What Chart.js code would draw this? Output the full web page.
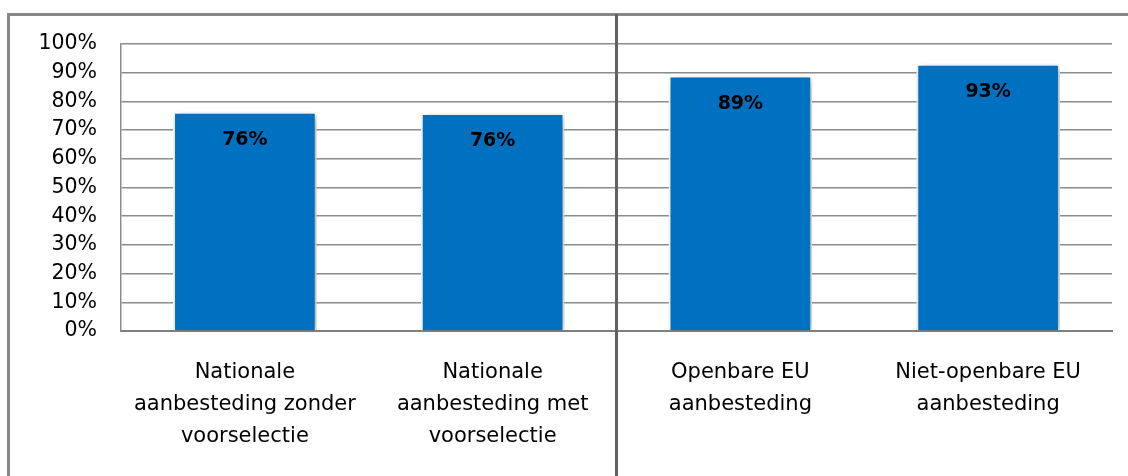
<!DOCTYPE html>
<html>
<head>
<meta charset="utf-8">
<script src="https://cdn.jsdelivr.net/npm/chart.js@4/dist/chart.umd.min.js"></script>
<style>
  html, body { margin: 0; padding: 0; background: #fff; }
  #wrap { position: relative; width: 1128px; height: 476px; }
</style>
</head>
<body>
<div id="wrap"><canvas id="grafico" width="1128" height="476"></canvas></div>
<script>
// categorie (etichette asse x, su più righe)
var categorie = [
    ["Nationale", "aanbesteding zonder", "voorselectie"],
    ["Nationale", "aanbesteding met", "voorselectie"],
    ["Openbare EU", "aanbesteding"],
    ["Niet-openbare EU", "aanbesteding"]
];
// valori in percentuale
var valori = [76.4, 76.0, 89.0, 93.1];
// tick asse y
var tickY = [0, 10, 20, 30, 40, 50, 60, 70, 80, 90, 100];

var font = "'DejaVu Sans', sans-serif";

// ombra sotto le barre
var ombraPlugin = {
    id: "ombra",
    beforeDatasetsDraw: function (chart) {
        var ctx = chart.ctx;
        ctx.save();
        ctx.shadowColor = "rgba(0,0,0,0.35)";
        ctx.shadowBlur = 7;
        ctx.shadowOffsetX = 2;
        ctx.shadowOffsetY = 2;
    },
    afterDatasetsDraw: function (chart) {
        chart.ctx.restore();
    }
};

// etichette dei valori dentro le barre + cornice e separatore
var extraPlugin = {
    id: "extra",
    afterDraw: function (chart) {
        var ctx = chart.ctx;
        var meta = chart.getDatasetMeta(0);
        ctx.save();
        ctx.fillStyle = "#000";
        ctx.font = "bold 19px " + font;
        ctx.textAlign = "center";
        ctx.textBaseline = "middle";
        meta.data.forEach(function (bar, i) {
            ctx.fillText(Math.round(valori[i]) + "%", bar.x, bar.y + 28);
        });

        // cornice esterna (alto e sinistra)
        ctx.strokeStyle = "#878787";
        ctx.lineWidth = 3;
        ctx.beginPath();
        ctx.moveTo(8.5, 476);
        ctx.lineTo(8.5, 14.5);
        ctx.lineTo(1128, 14.5);
        ctx.stroke();

        // separatore verticale tra nazionale ed EU
        var xs = chart.scales.x;
        var xm = (xs.getPixelForValue(1) + xs.getPixelForValue(2)) / 2;
        ctx.strokeStyle = "#606060";
        ctx.lineWidth = 3;
        ctx.beginPath();
        ctx.moveTo(xm, 14);
        ctx.lineTo(xm, 476);
        ctx.stroke();
        ctx.restore();
    }
};

new Chart(document.getElementById("grafico").getContext("2d"), {
    type: "bar",
    data: {
        labels: categorie,
        datasets: [{
            data: valori,
            backgroundColor: "#0070C0",
            borderColor: "#ffffff",
            borderWidth: 2,
            barPercentage: 0.58,
            categoryPercentage: 1
        }]
    },
    plugins: [ombraPlugin, extraPlugin],
    options: {
        responsive: false,
        animation: false,
        layout: { padding: { top: 44, right: 16, left: 0, bottom: 0 } },
        plugins: { legend: { display: false }, tooltip: { enabled: false } },
        scales: {
            x: {
                afterFit: function (s) { s.height = 145; },
                grid: { display: false, drawTicks: false },
                border: { color: "#7f7f7f", width: 2 },
                ticks: {
                    color: "#000",
                    padding: 26,
                    maxRotation: 0,
                    autoSkip: false,
                    font: { family: font, size: 21, lineHeight: 1.524 }
                }
            },
            y: {
                min: 0,
                max: 100,
                afterFit: function (s) { s.width = 121; },
                afterBuildTicks: function (s) {
                    s.ticks = tickY.map(function (v) { return { value: v }; });
                },
                grid: { color: "#8c8c8c", lineWidth: 1.5, drawTicks: false },
                border: { color: "#8c8c8c", width: 1.5 },
                ticks: {
                    color: "#000",
                    padding: 24,
                    font: { family: font, size: 20.5 },
                    callback: function (v) { return v + "%"; }
                }
            }
        }
    }
});
</script>
</body>
</html>
